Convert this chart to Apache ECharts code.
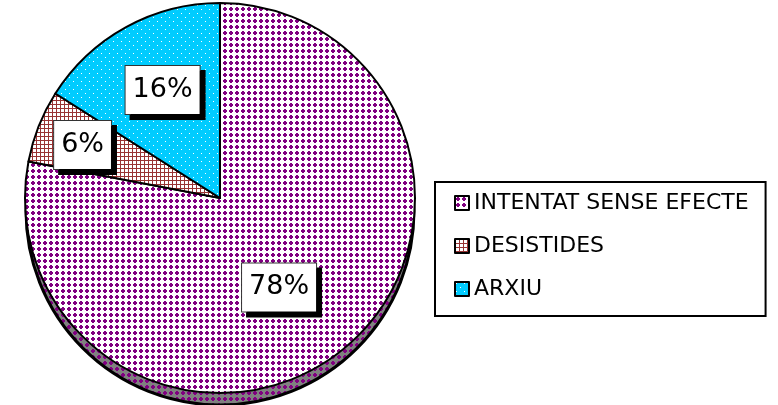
<!DOCTYPE html>
<html>
<head>
<meta charset="utf-8">
<script src="https://cdn.jsdelivr.net/npm/echarts@6/dist/echarts.min.js"></script>
<style>
  html, body { margin: 0; padding: 0; background: #fff; }
  #main { width: 778px; height: 405px; }
</style>
</head>
<body>
<div id="main"></div>
<script>
// chart data
var categories = ['INTENTAT SENSE EFECTE', 'DESISTIDES', 'ARXIU'];
var values = [78, 6, 16];
// label nudges from the default inside position (px)
var labelDx = [-5, -44, -9];
var labelDy = [12, -16, -20];

// little tiles that mimic the old office fill patterns
function tile(w, h, bg, fg, cells) {
    var c = document.createElement('canvas');
    c.width = w; c.height = h;
    var ctx = c.getContext('2d');
    ctx.fillStyle = bg;
    ctx.fillRect(0, 0, w, h);
    ctx.fillStyle = fg;
    cells.forEach(function (p) { ctx.fillRect(p[0], p[1], 1, 1); });
    return { image: c, repeat: 'repeat' };
}

var plusCells = [];
['.XX.', 'XXXX', 'XXXX', '.XX.'].forEach(function (row, y) {
    for (var x = 0; x < row.length; x++) if (row[x] === 'X') plusCells.push([x + 1, y + 1]);
});
var gridCells = [];
for (var i = 0; i < 4; i++) { gridCells.push([i, 0]); gridCells.push([0, i]); }

var purpleFill = tile(6, 6, '#ffffff', '#800080', plusCells);
var shadeFill = tile(6, 6, '#808080', '#800080', plusCells);
var gridFill = tile(4, 4, '#ffffff', '#993333', gridCells);
var dotFill = tile(8, 8, '#00ccff', '#ffffff', [[1, 1], [5, 5]]);
var fills = [purpleFill, gridFill, dotFill];

var myChart = echarts.init(document.getElementById('main'));

var mainData = categories.map(function (name, i) {
    return { name: name, value: values[i], itemStyle: { color: fills[i] } };
});
var shadeData = categories.map(function (name, i) {
    return { name: name, value: values[i], itemStyle: { color: shadeFill } };
});

var option = {
    animation: false,
    legend: {
        orient: 'vertical',
        left: 435,
        top: 182,
        data: categories,
        backgroundColor: '#fff',
        borderColor: '#000',
        borderWidth: 2,
        padding: [9, 17, 15, 19],
        itemWidth: 14,
        itemHeight: 14,
        itemGap: 19,
        icon: 'rect',
        selectedMode: false,
        itemStyle: { borderColor: '#000', borderWidth: 2 },
        textStyle: {
            fontFamily: 'DejaVu Sans',
            fontSize: 22,
            lineHeight: 24,
            color: '#000'
        }
    },
    series: [
        {
            name: 'main',
            type: 'pie',
            z: 3,
            center: [220, 198],
            radius: 195,
            startAngle: 90,
            clockwise: true,
            silent: true,
            itemStyle: { borderColor: '#000', borderWidth: 2 },
            label: {
                position: 'inside',
                formatter: function (p) { return p.value + '%'; },
                fontFamily: 'DejaVu Sans',
                fontSize: 27,
                color: '#000',
                backgroundColor: '#fff',
                borderColor: '#333',
                borderWidth: 1,
                padding: [10, 7, 11, 7],
                shadowColor: '#000',
                shadowBlur: 0,
                shadowOffsetX: 5,
                shadowOffsetY: 5
            },
            labelLayout: function (params) {
                return { dx: labelDx[params.dataIndex], dy: labelDy[params.dataIndex] };
            },
            emphasis: { disabled: true },
            data: mainData
        },
        {
            name: 'shade',
            type: 'pie',
            z: 1,
            center: [220, 211],
            radius: 194,
            startAngle: 90,
            clockwise: true,
            silent: true,
            legendHoverLink: false,
            itemStyle: { borderWidth: 0 },
            label: { show: false },
            labelLine: { show: false },
            emphasis: { disabled: true },
            data: shadeData
        },
        {
            // outline of the extruded rim
            name: 'rim',
            type: 'pie',
            z: 2,
            center: [220, 211],
            radius: 194,
            silent: true,
            legendHoverLink: false,
            itemStyle: { color: 'transparent', borderColor: '#000', borderWidth: 3 },
            label: { show: false },
            labelLine: { show: false },
            emphasis: { disabled: true },
            data: [{ name: 'rim', value: 1 }]
        }
    ]
};

myChart.setOption(option);
</script>
</body>
</html>
